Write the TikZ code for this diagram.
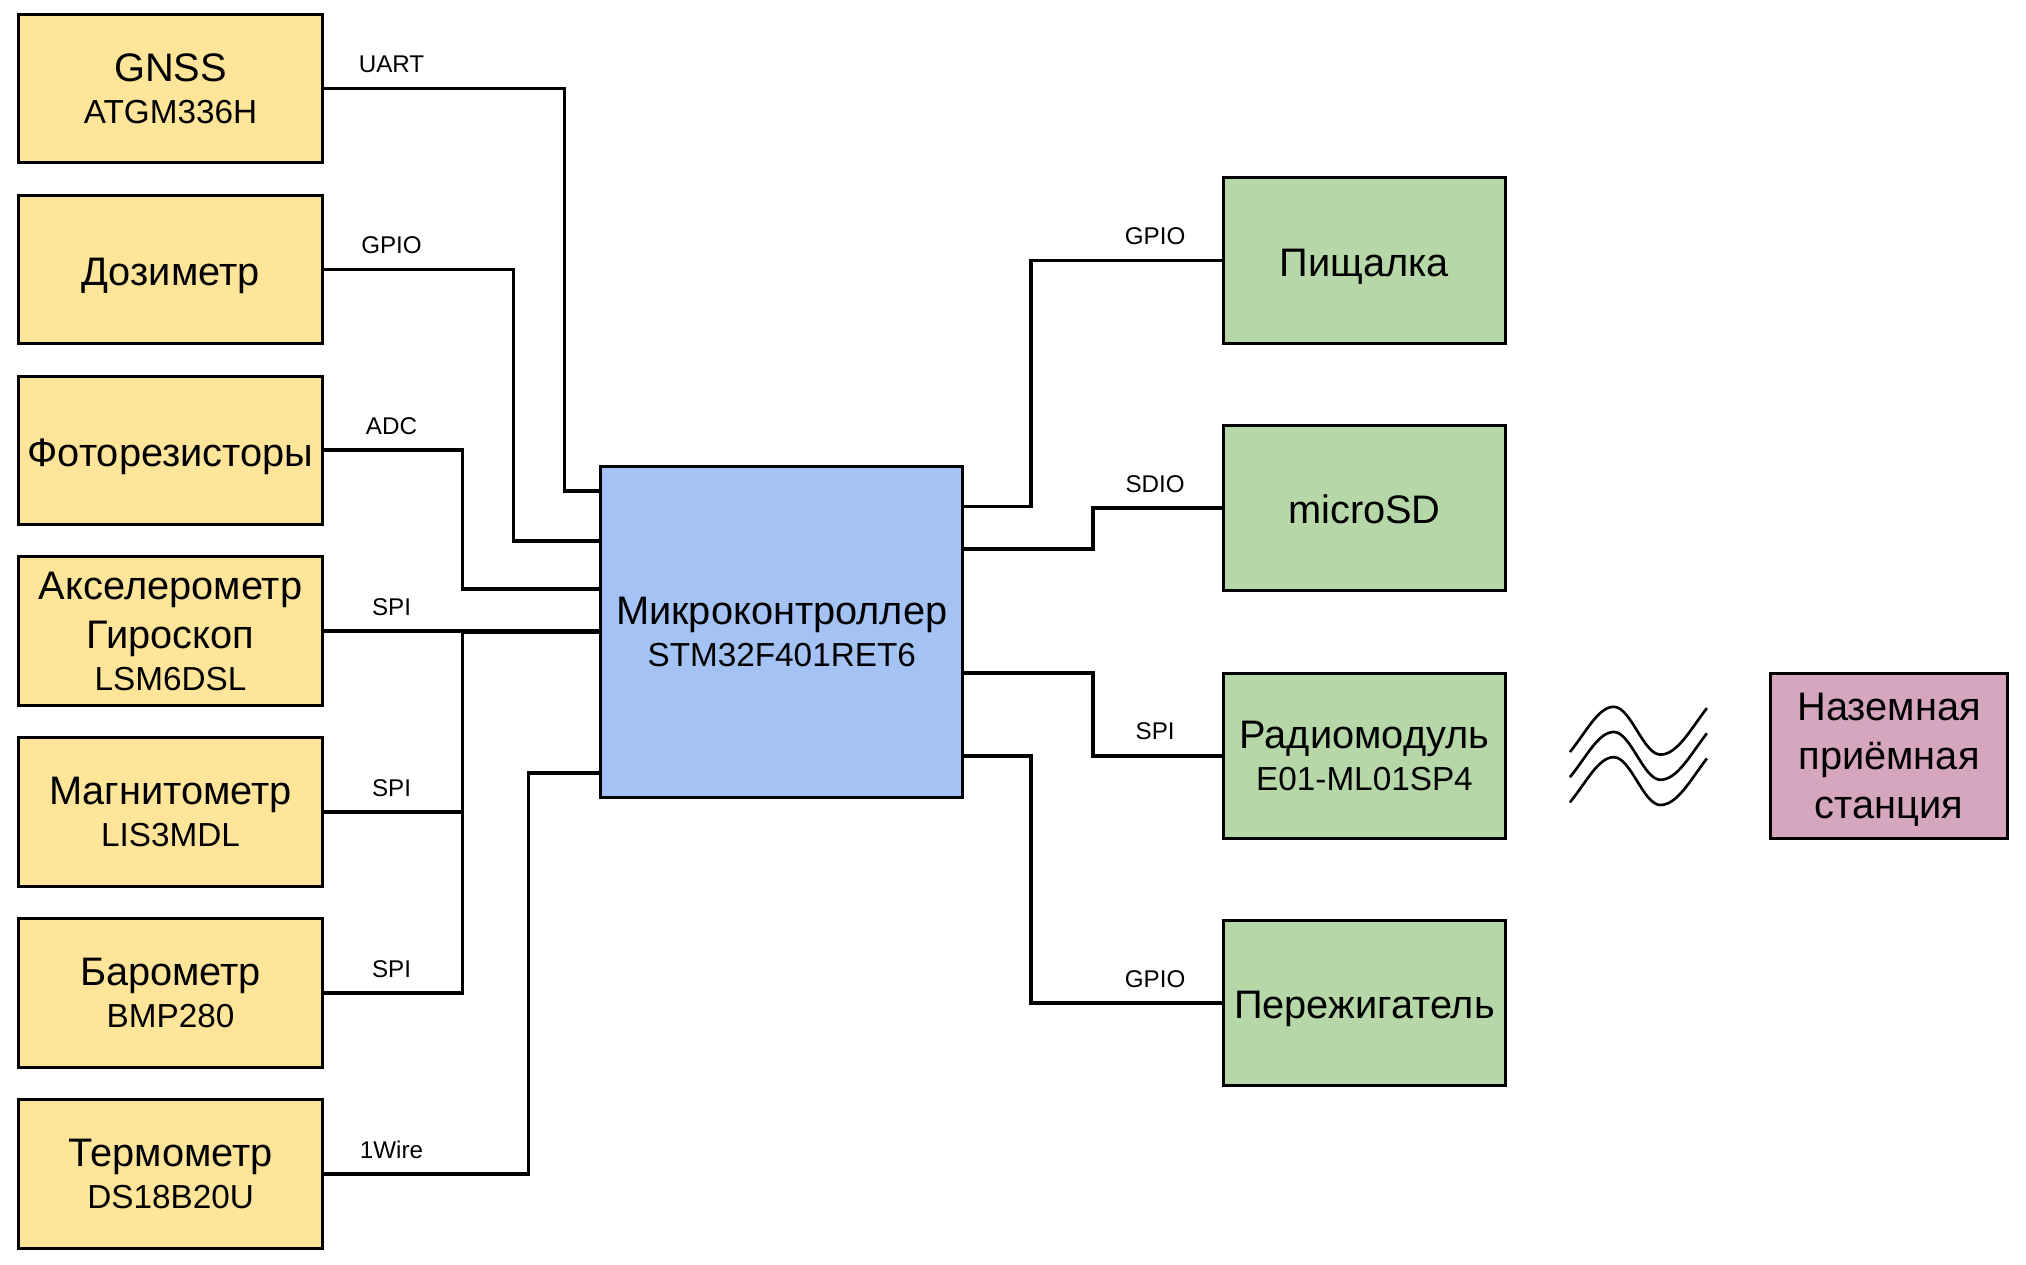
\documentclass[tikz,border=0pt]{standalone}
\usepackage{fontspec}
\setmainfont{Liberation Sans}
\definecolor{sensorfill}{HTML}{FFE599}
\definecolor{mcufill}{HTML}{A4C2F4}
\definecolor{outfill}{HTML}{B6D7A8}
\definecolor{stationfill}{HTML}{D5A6BD}
\newcommand{\sublabel}[1]{{\fontsize{9.5}{12}\selectfont #1}}
\tikzset{
  block/.style={draw,line width=0.85pt,inner sep=0pt,outer sep=0pt,align=center,
    font=\fontsize{11.35}{14}\selectfont,text depth=0pt,
    execute at begin node={\rule{0pt}{9.2pt}}},
  sensor/.style={block,fill=sensorfill,minimum width=3.056cm,minimum height=1.489cm},
  output/.style={block,fill=outfill,minimum width=2.823cm,minimum height=1.657cm},
  wire/.style={line width=1.05pt,line join=miter},
  bus/.style={font=\fontsize{6.9}{9}\selectfont,inner sep=0pt}
}
\begin{document}
\begin{tikzpicture}[x=0.01295cm,y=-0.01295cm]
    \useasboundingbox (0,0) rectangle (1568,978.3);
    \node[sensor] (gnss) at (132,68.5) {GNSS\\[-2pt]\sublabel{ATGM336H}};
    \node[sensor] (dosimeter) at (132,208.5) {Дозиметр};
    \node[sensor] (photo) at (132,348.5) {Фоторезисторы};
    \node[sensor] (accel) at (132,488.5) {Акселерометр\\Гироскоп\\[-2pt]\sublabel{LSM6DSL}};
    \node[sensor] (magnet) at (132,628.5) {Магнитометр\\[-2pt]\sublabel{LIS3MDL}};
    \node[sensor] (baro) at (132,768.5) {Барометр\\[-2pt]\sublabel{BMP280}};
    \node[sensor] (thermo) at (132,908.5) {Термометр\\[-2pt]\sublabel{DS18B20U}};
    \node[block,fill=mcufill,minimum width=3.626cm,minimum height=3.315cm] (mcu) at (605,489)
      {Микроконтроллер\\[-2pt]\sublabel{STM32F401RET6}};
    \node[output] (buzzer) at (1056,201.5) {Пищалка};
    \node[output] (sdcard) at (1056,393) {microSD};
    \node[output] (radio) at (1056,585) {Радиомодуль\\[-2pt]\sublabel{E01-ML01SP4}};
    \node[output] (burner) at (1056,776) {Пережигатель};
    \node[block,fill=stationfill,minimum width=2.383cm,minimum height=1.657cm] (station) at (1462,585)
      {Наземная\\приёмная\\станция};

    % inputs
    \coordinate (mcuUart) at (465,380);
    \coordinate (mcuGpio) at (465,418.5);
    \coordinate (mcuAdc) at (465,456);
    \coordinate (mcuBus) at (465,489.3);
    \coordinate (mcuWire) at (465,598);
    \draw[wire] (gnss.east) -| (437,380) -- (mcuUart);
    \draw[wire] (dosimeter.east) -| (397.5,418.5) -- (mcuGpio);
    \draw[wire] (photo.east) -| (358,456) -- (mcuAdc);
    \draw[wire] (accel.east) -- (accel.east -| mcu.west);
    \draw[wire] (magnet.east) -| (358,489.3) -- (mcuBus);
    \draw[wire] (baro.east) -| (358,489.3);
    \draw[wire] (thermo.east) -| (409,598) -- (mcuWire);

    % outputs
    \coordinate (mcuBuzz) at (745,392);
    \coordinate (mcuSdio) at (745,425);
    \coordinate (mcuSpi) at (745,521);
    \coordinate (mcuBurn) at (745,585);
    \draw[wire] (mcuBuzz) -- (798,392) |- (buzzer.west);
    \draw[wire] (mcuSdio) -- (846,425) |- (sdcard.west);
    \draw[wire] (mcuSpi) -- (846,521) |- (radio.west);
    \draw[wire] (mcuBurn) -- (798,585) |- (burner.west);

    \node[bus] (busA) at (303,50) {UART};
    \node[bus] (busB) at (303,190) {GPIO};
    \node[bus] (busC) at (303,330) {ADC};
    \node[bus] (busD) at (303,470) {SPI};
    \node[bus] (busE) at (303,610) {SPI};
    \node[bus] (busF) at (303,750) {SPI};
    \node[bus] (busG) at (303,890) {1Wire};
    \node[bus] (busH) at (894,182.5) {GPIO};
    \node[bus] (busI) at (894,374.5) {SDIO};
    \node[bus] (busJ) at (894,566) {SPI};
    \node[bus] (busK) at (894,757.5) {GPIO};

    % radio link
    \foreach \dy in {0,19.5,39}
      \draw[wire,line width=0.75pt,yshift=-\dy*0.01295cm] (1215,582) .. controls (1228,566) and (1237,547) .. (1249,547)
        .. controls (1262,547) and (1272,584) .. (1285,584)
        .. controls (1298,584) and (1308,565) .. (1321,548);
\end{tikzpicture}
\end{document}
